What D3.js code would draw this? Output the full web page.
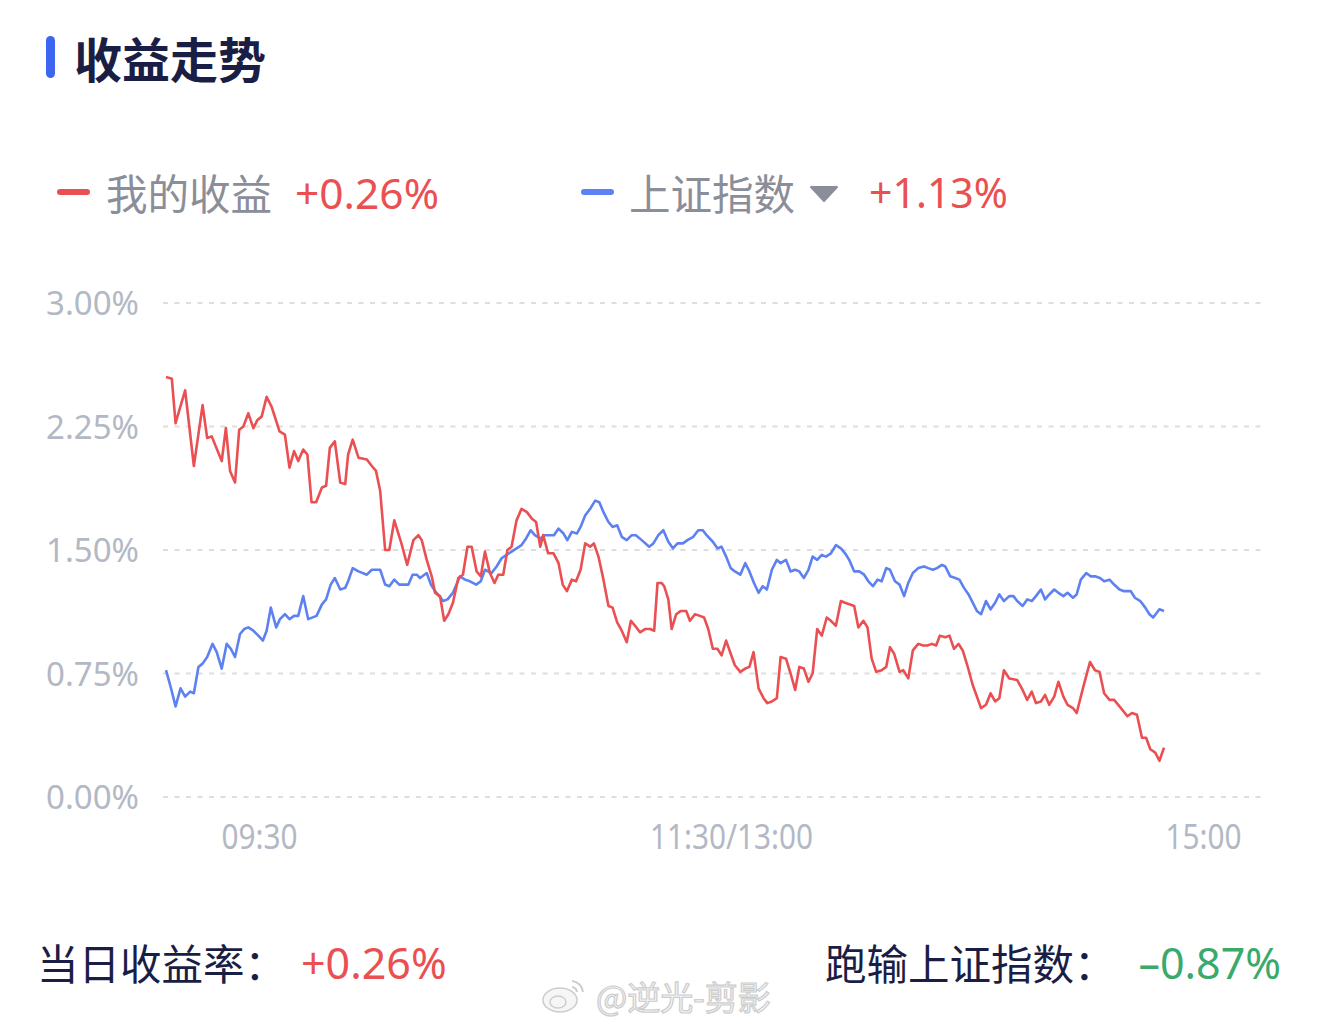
<!DOCTYPE html>
<html>
<head>
<meta charset="utf-8">
<script src="https://cdn.jsdelivr.net/npm/d3@7"></script>
<style>
  html, body { margin: 0; padding: 0; background: #ffffff; }
  svg { display: block; font-family: "Noto Sans CJK SC", "Noto Sans", sans-serif; }
</style>
</head>
<body>
<svg id="chart" width="1320" height="1028"></svg>
<script>
// ---------- data ----------
const title = "收益走势";
const seriesNames = ["我的收益", "上证指数"];
const seriesLast = ["+0.26%", "+1.13%"];
const yTicks = [0, 0.75, 1.5, 2.25, 3.0];
const xTickLabels = ["09:30", "11:30/13:00", "15:00"];
const summaryLabels = ["当日收益率：", "跑输上证指数："];
const summaryValues = ["+0.26%", "–0.87%"];
const watermark = "@逆光-剪影";

// [minutes since open, return %]
const myReturn = [
[0,2.55],[1.4,2.54],[2.3,2.27],[4.6,2.47],[6.7,2.01],[8.8,2.38],[9.9,2.18],[11.0,2.19],[13.4,2.04],[14.4,2.24],
[15.4,1.98],[16.6,1.91],[17.6,2.23],[18.6,2.25],[19.8,2.33],[21.0,2.24],[22.0,2.29],[23.0,2.31],[24.2,2.43],[25.4,2.37],
[27.3,2.22],[28.6,2.20],[29.7,2.00],[30.8,2.10],[31.8,2.04],[33.0,2.11],[34.0,2.08],[35.0,1.79],[36.1,1.79],[37.5,1.88],
[38.5,1.89],[39.4,2.12],[40.6,2.16],[41.9,1.91],[43.1,1.90],[43.8,2.08],[44.9,2.17],[46.3,2.06],[48.3,2.05],[49.5,2.01],
[50.5,1.98],[51.5,1.86],[52.7,1.50],[53.7,1.50],[54.9,1.68],[56.5,1.55],[58.0,1.41],[59.5,1.56],[60.7,1.59],[61.5,1.56],
[62.7,1.44],[63.9,1.34],[64.7,1.24],[65.9,1.22],[66.9,1.07],[67.9,1.11],[69.0,1.18],[70.3,1.33],[71.4,1.35],[72.5,1.52],
[73.5,1.52],[74.7,1.37],[75.7,1.34],[76.7,1.49],[77.9,1.36],[79.0,1.30],[79.9,1.35],[81.1,1.35],[82.1,1.50],[83.1,1.52],
[84.3,1.68],[85.5,1.75],[86.8,1.73],[88.0,1.69],[89.0,1.67],[90.0,1.52],[90.7,1.59],[91.9,1.48],[93.2,1.48],[94.4,1.42],
[95.4,1.29],[96.4,1.25],[97.6,1.32],[98.6,1.31],[99.7,1.38],[100.8,1.54],[102.0,1.52],[102.9,1.54],[104.0,1.46],[105.2,1.32],
[106.4,1.16],[107.4,1.15],[108.5,1.06],[109.6,1.01],[110.8,0.94],[111.8,1.07],[112.8,1.04],[114.0,1.00],[115.2,1.02],[116.4,1.02],
[117.4,1.01],[118.2,1.30],[119.2,1.30],[119.8,1.28],[120.8,1.20],[121.6,1.02],[122.7,1.11],[123.8,1.13],[125.1,1.13],[126.0,1.07],
[127.2,1.11],[128.4,1.10],[129.4,1.09],[130.4,1.02],[131.5,0.90],[132.6,0.90],[133.6,0.86],[134.7,0.95],[135.8,0.87],[136.8,0.80],
[138.1,0.76],[139.3,0.78],[140.3,0.79],[141.3,0.88],[142.5,0.66],[143.7,0.60],[144.6,0.57],[145.7,0.58],[146.9,0.60],[147.8,0.85],
[149.1,0.84],[150.2,0.75],[151.3,0.65],[152.3,0.79],[153.4,0.78],[154.5,0.70],[155.5,0.75],[156.6,1.02],[157.7,0.98],[158.9,1.09],
[159.9,1.07],[161.1,1.04],[162.3,1.19],[163.3,1.18],[165.5,1.16],[166.5,1.03],[167.7,1.07],[168.7,1.03],[169.7,0.84],[170.8,0.76],
[172.1,0.77],[173.2,0.79],[174.1,0.91],[175.1,0.87],[176.4,0.76],[177.3,0.77],[178.5,0.72],[179.6,0.89],[180.9,0.93],[182.1,0.92],
[183.1,0.92],[184.2,0.93],[185.2,0.92],[186.1,0.98],[187.4,0.97],[188.4,0.98],[189.5,0.90],[190.6,0.93],[191.6,0.89],[192.7,0.80],
[194.0,0.68],[195.0,0.61],[196.0,0.54],[197.2,0.56],[198.3,0.63],[199.4,0.58],[200.4,0.60],[201.5,0.77],[202.8,0.72],[204.7,0.71],
[206.0,0.65],[207.1,0.59],[208.2,0.64],[209.2,0.57],[210.4,0.58],[211.4,0.62],[212.4,0.56],[213.6,0.61],[214.6,0.70],[215.8,0.61],
[216.8,0.56],[218.1,0.54],[219.0,0.51],[220.5,0.66],[222.2,0.82],[223.4,0.77],[224.5,0.76],[225.6,0.63],[226.9,0.59],[228.0,0.59],
[229.3,0.55],[231.2,0.49],[232.3,0.51],[233.5,0.50],[234.7,0.36],[235.7,0.36],[236.7,0.29],[237.9,0.27],[238.9,0.22],[240,0.30]
];

const shIndex = [
[0,0.77],[1.0,0.68],[2.3,0.55],[3.5,0.66],[4.6,0.61],[5.8,0.64],[6.7,0.63],[7.8,0.79],[8.8,0.81],[9.9,0.85],
[11.2,0.93],[12.2,0.88],[13.4,0.78],[14.6,0.93],[15.6,0.90],[16.6,0.85],[17.8,0.99],[18.8,1.02],[19.8,1.03],[21.0,1.01],
[22.2,0.98],[23.3,0.95],[24.2,1.01],[25.2,1.15],[26.5,1.03],[27.4,1.08],[28.6,1.11],[29.7,1.08],[30.8,1.10],[31.8,1.10],
[33.0,1.22],[34.2,1.08],[36.2,1.10],[37.5,1.17],[38.5,1.20],[39.6,1.29],[40.6,1.33],[41.9,1.26],[43.1,1.27],[43.8,1.31],
[44.9,1.39],[46.3,1.37],[48.3,1.35],[49.5,1.38],[51.5,1.38],[52.7,1.29],[53.7,1.28],[54.9,1.32],[56.1,1.29],[57.1,1.29],
[58.3,1.29],[59.3,1.35],[60.3,1.35],[61.1,1.33],[62.7,1.36],[63.7,1.29],[64.7,1.25],[65.7,1.22],[66.7,1.19],[67.7,1.20],
[69.0,1.24],[70.7,1.34],[71.9,1.32],[73.1,1.31],[74.6,1.29],[75.7,1.31],[76.7,1.38],[78.3,1.36],[79.5,1.40],[80.7,1.45],
[81.9,1.47],[83.1,1.49],[84.3,1.51],[85.5,1.53],[86.6,1.57],[87.7,1.62],[88.7,1.59],[90.0,1.57],[91.2,1.59],[92.4,1.59],
[93.3,1.59],[94.4,1.63],[95.6,1.60],[96.5,1.56],[97.6,1.61],[98.8,1.60],[99.7,1.64],[100.8,1.71],[102.0,1.75],[103.2,1.80],
[104.2,1.79],[105.2,1.73],[106.4,1.67],[107.4,1.64],[108.5,1.65],[109.6,1.58],[110.8,1.56],[112.0,1.59],[113.0,1.59],[114.4,1.56],
[116.2,1.52],[117.2,1.54],[118.4,1.59],[119.6,1.62],[120.8,1.55],[121.9,1.51],[123.0,1.54],[124.3,1.54],[125.4,1.56],[126.8,1.58],
[128.0,1.62],[129.1,1.62],[130.0,1.59],[131.5,1.55],[132.6,1.51],[133.6,1.52],[134.7,1.46],[135.8,1.39],[136.8,1.37],[138.1,1.35],
[139.3,1.42],[140.3,1.37],[141.4,1.30],[142.5,1.24],[143.5,1.28],[144.5,1.26],[145.7,1.38],[146.9,1.44],[147.8,1.42],[149.1,1.44],
[150.2,1.37],[151.3,1.38],[152.3,1.37],[153.4,1.33],[154.5,1.38],[155.5,1.46],[156.6,1.44],[157.7,1.47],[158.7,1.46],[159.9,1.48],
[161.1,1.53],[162.3,1.51],[163.3,1.48],[164.3,1.44],[165.5,1.37],[166.7,1.37],[167.9,1.35],[168.9,1.31],[170.0,1.28],[171.1,1.32],
[172.1,1.31],[173.2,1.39],[174.1,1.38],[175.3,1.31],[176.4,1.29],[177.5,1.22],[178.5,1.30],[179.6,1.36],[180.9,1.39],[182.3,1.40],
[183.3,1.39],[184.4,1.38],[185.4,1.39],[186.6,1.41],[187.4,1.40],[188.6,1.34],[189.8,1.33],[190.8,1.32],[191.9,1.27],[193.0,1.23],
[194.0,1.18],[195.0,1.13],[196.0,1.11],[197.2,1.19],[198.3,1.14],[199.4,1.18],[200.4,1.23],[201.5,1.19],[202.8,1.22],[203.8,1.22],
[204.7,1.19],[206.0,1.16],[207.1,1.20],[208.2,1.19],[209.2,1.22],[210.4,1.26],[211.4,1.20],[212.4,1.23],[213.6,1.26],[214.6,1.24],
[215.8,1.22],[216.8,1.24],[218.1,1.21],[219.0,1.23],[220.0,1.32],[221.3,1.36],[222.4,1.34],[223.4,1.34],[224.6,1.33],[225.6,1.31],
[226.9,1.32],[228.0,1.29],[229.3,1.26],[230.4,1.25],[232.0,1.25],[233.0,1.21],[234.3,1.19],[235.5,1.15],[236.5,1.11],[237.4,1.09],
[238.9,1.14],[240,1.13]
];

// ---------- styles ----------
const RED = "#ea4f52", BLUE = "#5e81f1", GREEN = "#3aa96b";
const NAVY = "#1b1e44", GRAY = "#8b8e99", AXIS = "#b3b8c5";
const NUM_FONT = "'Noto Sans', 'Noto Sans CJK SC', sans-serif";

const svg = d3.select("#chart");
svg.append("rect").attr("width", 1320).attr("height", 1028).attr("fill", "#fff");

// title
svg.append("rect").attr("x", 46).attr("y", 36).attr("width", 9).attr("height", 42)
  .attr("rx", 4.5).attr("fill", "#3c66f0");
svg.append("text").attr("x", 74).attr("y", 57).attr("dominant-baseline", "central")
  .attr("font-size", 48).attr("font-weight", 700).attr("fill", NAVY).text(title);

// legend
const legendY = 192;
const legend = svg.append("g");
legend.append("line").attr("x1", 60).attr("x2", 87).attr("y1", legendY).attr("y2", legendY)
  .attr("stroke", RED).attr("stroke-width", 6).attr("stroke-linecap", "round");
legend.append("text").attr("x", 106).attr("y", legendY).attr("dominant-baseline", "central")
  .attr("font-size", 41.5).attr("fill", GRAY).text(seriesNames[0]);
legend.append("text").attr("x", 295).attr("y", legendY).attr("dominant-baseline", "central")
  .attr("font-family", NUM_FONT).attr("font-size", 42.5).attr("fill", RED).text(seriesLast[0]);
legend.append("line").attr("x1", 584).attr("x2", 611).attr("y1", legendY).attr("y2", legendY)
  .attr("stroke", BLUE).attr("stroke-width", 6).attr("stroke-linecap", "round");
legend.append("text").attr("x", 629).attr("y", legendY).attr("dominant-baseline", "central")
  .attr("font-size", 41.5).attr("fill", GRAY).text(seriesNames[1]);
legend.append("path").attr("d", "M811,187 L837,187 L824,201 Z").attr("fill", GRAY)
  .attr("stroke", GRAY).attr("stroke-width", 2).attr("stroke-linejoin", "round");
legend.append("text").attr("x", 869).attr("y", legendY).attr("dominant-baseline", "central")
  .attr("font-family", NUM_FONT).attr("font-size", 41).attr("fill", RED).text(seriesLast[1]);

// scales
const x = d3.scaleLinear().domain([0, 240]).range([166, 1164]);
const y = d3.scaleLinear().domain([0, 3]).range([797, 303]);
const xLab = d3.scalePoint().domain(xTickLabels).range([259, 1203]);

// grid
svg.append("g").selectAll("line").data(yTicks).join("line")
  .attr("x1", 163).attr("x2", 1262)
  .attr("y1", d => y(d)).attr("y2", d => y(d))
  .attr("stroke", "#dedede").attr("stroke-width", 2).attr("stroke-dasharray", "5,6.5");

// y axis
const yAxis = svg.append("g").attr("transform", "translate(139,0)")
  .call(d3.axisLeft(y).tickValues(yTicks).tickSize(0).tickPadding(0)
    .tickFormat(d => d.toFixed(2) + "%"));
yAxis.select(".domain").remove();
yAxis.selectAll("text").attr("font-size", 33).attr("fill", AXIS)
  .attr("font-family", NUM_FONT).attr("dy", "0.35em");

// x axis
const xAxis = svg.append("g").attr("transform", "translate(0,837)")
  .call(d3.axisBottom(xLab).tickSize(0).tickPadding(0));
xAxis.select(".domain").remove();
xAxis.selectAll("text").attr("font-size", 35).attr("fill", AXIS)
  .attr("font-family", NUM_FONT).attr("y", 0).attr("dy", "0.35em")
  .attr("transform", "scale(0.85,1)");

// lines
const line = d3.line().x(d => x(d[0])).y(d => y(d[1])).curve(d3.curveLinear);
svg.append("path").datum(shIndex).attr("d", line).attr("fill", "none")
  .attr("stroke", BLUE).attr("stroke-width", 2.6).attr("stroke-linejoin", "round");
svg.append("path").datum(myReturn).attr("d", line).attr("fill", "none")
  .attr("stroke", RED).attr("stroke-width", 2.6).attr("stroke-linejoin", "round");

// summary
const sumY = 962;
svg.append("text").attr("x", 37).attr("y", sumY).attr("dominant-baseline", "central")
  .attr("font-size", 41.5).attr("fill", NAVY).text(summaryLabels[0]);
svg.append("text").attr("x", 301).attr("y", sumY).attr("dominant-baseline", "central")
  .attr("font-family", NUM_FONT).attr("font-size", 43).attr("fill", RED).text(summaryValues[0]);
svg.append("text").attr("x", 825).attr("y", sumY).attr("dominant-baseline", "central")
  .attr("font-size", 41.5).attr("fill", NAVY).text(summaryLabels[1]);
svg.append("text").attr("x", 1281).attr("y", sumY).attr("dominant-baseline", "central")
  .attr("text-anchor", "end").attr("font-family", NUM_FONT).attr("font-size", 43)
  .attr("fill", GREEN).text(summaryValues[1]);

// watermark
const wm = svg.append("g");
wm.append("text").attr("x", 596).attr("y", 996).attr("dominant-baseline", "central")
  .attr("font-size", 33).attr("fill", "#f6f6f6").attr("stroke", "#cdcdcd").attr("stroke-width", 1.2)
  .text(watermark);
wm.append("ellipse").attr("cx", 560).attr("cy", 1000).attr("rx", 17).attr("ry", 12)
  .attr("fill", "#f6f6f6").attr("stroke", "#cdcdcd").attr("stroke-width", 1.5);
wm.append("ellipse").attr("cx", 558).attr("cy", 1002).attr("rx", 8).attr("ry", 6)
  .attr("fill", "none").attr("stroke", "#cdcdcd").attr("stroke-width", 1.5);
wm.append("path").attr("d", "M572,981 A12,12 0 0 1 583,992 M572,987 A6,6 0 0 1 577,992")
  .attr("fill", "none").attr("stroke", "#cdcdcd").attr("stroke-width", 2);
</script>
</body>
</html>
